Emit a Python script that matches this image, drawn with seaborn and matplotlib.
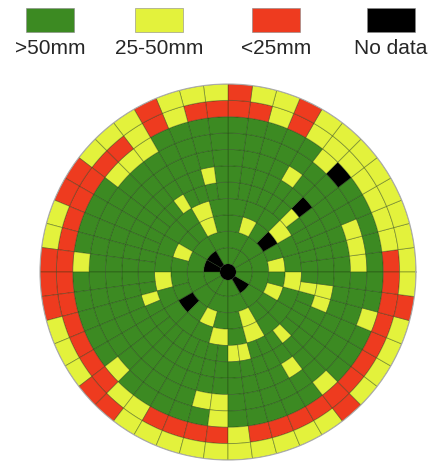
import numpy as np
import matplotlib
matplotlib.use("Agg")
import matplotlib.pyplot as plt
import seaborn as sns

# ---- data ----
categories = [">50mm", "25-50mm", "<25mm", "No data"]
palette = ["#3c8a22", "#e3f23c", "#ee3b1f", "#000000"]
n_rings = 11
sectors_per_ring = [12, 12, 24, 24] + [48] * 7
# ring 11 (outer): yellow except these red sectors
ring11_red = [8, 11, 15, 19, 20, 23, 24, 25, 29, 30, 41, 46]
# ring 10: red except these yellow sectors
ring10_yellow = [1, 2, 3, 4, 5, 6, 7, 9, 14, 16, 30, 31, 36]
# inner rings (1..9): green except
inner_yellow = {3: [0, 4, 7, 10, 16, 19, 22],
                4: [2, 7, 12, 17, 19, 23],
                5: [5, 16, 26, 36, 37, 41, 46],
                6: [13, 45, 46],
                7: [7, 40],
                8: [0, 1, 2, 34, 35],
                9: [6, 16, 17, 18, 23, 29, 35, 41, 45]}
inner_black = {1: [4, 5, 10], 3: [2, 14], 6: [5], 9: [5]}

# ---- build grid ----
grid = []
for k in range(1, n_rings + 1):
    n = sectors_per_ring[k - 1]
    if k == 11:
        cells = [1] * n
        for s in ring11_red:
            cells[s] = 2
    elif k == 10:
        cells = [2] * n
        for s in ring10_yellow:
            cells[s] = 1
    else:
        cells = [0] * n
        for s in inner_yellow.get(k, []):
            cells[s] = 1
        for s in inner_black.get(k, []):
            cells[s] = 3
    grid.append(cells)

sns.set_style("white")
plt.rcParams['font.family'] = ['Liberation Sans', 'DejaVu Sans']

W, H = 435, 464
fig = plt.figure(figsize=(W / 100, H / 100), dpi=100)
r0, dr = 8.0, 16.3
rmax = r0 + dr * n_rings
cx, cy, R = 228, 273, 188
ax = fig.add_axes([(cx - R) / W, (H - cy - R) / H, 2 * R / W, 2 * R / H],
                  projection="polar")
for k, cells in enumerate(grid):
    n = len(cells)
    w = 2 * np.pi / n
    th = (np.arange(n) + 0.5) * w
    cols = [palette[c] for c in cells]
    ax.bar(th, dr, width=w, bottom=r0 + dr * k, color=cols,
           edgecolor=(0.1, 0.2, 0.05, 0.4), linewidth=0.6, align="center")
ax.bar([0], r0, width=2 * np.pi, bottom=0, color="black", linewidth=0)
ax.set_ylim(0, rmax)
ax.set_xticks([])
ax.set_yticks([])
ax.grid(False)
ax.spines["polar"].set_color("#aaaaaa")
ax.spines["polar"].set_linewidth(0.8)

# legend
lx = [50, 159, 276, 391]
for x, c, lab in zip(lx, palette, categories):
    fig.patches.append(plt.Rectangle(((x - 24) / W, 1 - 33 / H), 48 / W, 24 / H,
                                     transform=fig.transFigure, facecolor=c,
                                     edgecolor="#888888", linewidth=0.4))
    fig.text(x / W, 1 - 48 / H, lab, ha="center", va="center", fontsize=15)

fig.savefig("out.png", dpi=100)
